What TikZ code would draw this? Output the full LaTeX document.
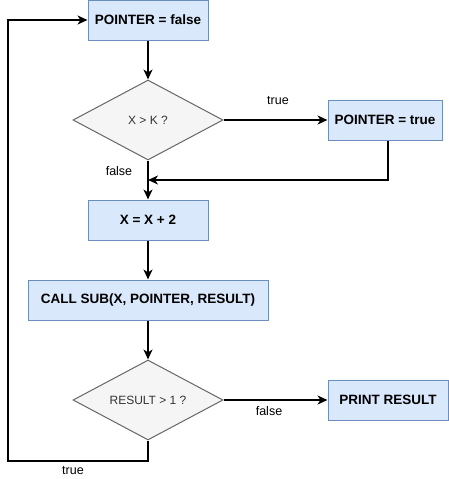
\documentclass[tikz,border=0pt]{standalone}
\usepackage{fontspec}
\setmainfont{Liberation Sans}
\usetikzlibrary{shapes.geometric,arrows.meta}
\definecolor{boxfill}{HTML}{DAE8FC}
\definecolor{boxdraw}{HTML}{6C8EBF}
\definecolor{decfill}{HTML}{F5F5F5}
\definecolor{decdraw}{HTML}{666666}
\definecolor{dectext}{HTML}{333333}
\tikzset{
  procbox/.style={draw=boxdraw,fill=boxfill,line width=1pt,minimum height=40pt,inner sep=0pt,font=\bfseries\fontsize{13.5}{15}\selectfont},
  decbox/.style={draw=decdraw,fill=decfill,line width=1pt,diamond,aspect=1.875,minimum width=150pt,minimum height=80pt,inner sep=0pt,text=dectext,font=\fontsize{12}{14}\selectfont},
  conn/.style={line width=2pt,-{Stealth[length=10pt,width=9pt,inset=3pt]}},
  plain/.style={line width=2pt},
  lbl/.style={font=\fontsize{12.5}{14}\selectfont,inner sep=0pt}
}
\begin{document}
\begin{tikzpicture}[x=1pt,y=-1pt]
\useasboundingbox (0,0) rectangle (449,479);
\node[procbox,minimum width=120pt] (pf) at (148,20) {POINTER = false};
\node[decbox] (d1) at (148,120) {X > K ?};
\node[procbox,minimum width=114pt] (pt) at (385,120) {POINTER = true};
\node[procbox,minimum width=120pt] (xx) at (148,220) {X = X + 2};
\node[procbox,minimum width=240pt] (cs) at (148,300) {CALL SUB(X, POINTER, RESULT)};
\node[decbox] (d2) at (148,400) {RESULT > 1 ?};
\node[procbox,minimum width=120pt] (pr) at (388,400) {PRINT RESULT};
\coordinate (j1) at (148,180);
\coordinate (c1) at (388,180);
\coordinate (c2) at (148,461);
\coordinate (c3) at (8,461);
\coordinate (c4) at (8,20);
\draw[conn] (pf) -- (d1);
\draw[conn] (d1) -- (pt);
\draw[plain] (d1.south) -- (j1);
\draw[conn] (pt.south -| c1) -- (c1) -- (j1);
\draw[conn] (j1) -- (xx);
\draw[conn] (xx) -- (cs);
\draw[conn] (cs) -- (d2);
\draw[conn] (d2) -- (pr);
\draw[conn] (d2.south) -- (c2) -- (c3) -- (c4) -- (pf);
\node[lbl] (l1) at (278,101) {true};
\node[lbl] (l2) at (119,171) {false};
\node[lbl] (l3) at (269,411) {false};
\node[lbl] (l4) at (73,471) {true};
\end{tikzpicture}
\end{document}
